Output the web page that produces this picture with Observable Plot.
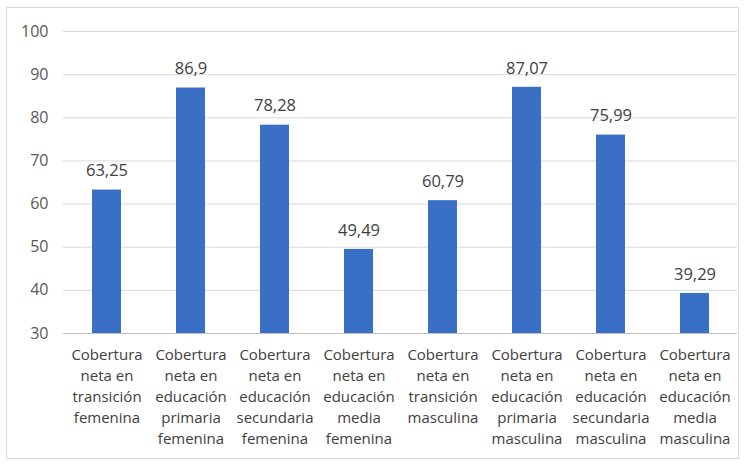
<!DOCTYPE html>
<html><head><meta charset="utf-8">
<script src="https://cdn.jsdelivr.net/npm/d3@7"></script>
<script src="https://cdn.jsdelivr.net/npm/@observablehq/plot@0.6"></script>
<style>
body{margin:0;background:#fff;}
#frame{position:absolute;left:6px;top:7px;width:733px;height:452px;border:1px solid #d9d9d9;box-sizing:border-box;}
#chart{position:absolute;left:0;top:0;}
</style></head>
<body><div id="frame"></div><div id="chart"></div>
<script>
const categories = [
  "Cobertura\nneta en\ntransición\nfemenina",
  "Cobertura\nneta en\neducación\nprimaria\nfemenina",
  "Cobertura\nneta en\neducación\nsecundaria\nfemenina",
  "Cobertura\nneta en\neducación\nmedia\nfemenina",
  "Cobertura\nneta en\ntransición\nmasculina",
  "Cobertura\nneta en\neducación\nprimaria\nmasculina",
  "Cobertura\nneta en\neducación\nsecundaria\nmasculina",
  "Cobertura\nneta en\neducación\nmedia\nmasculina"
];
const values = [63.25, 86.9, 78.28, 49.49, 60.79, 87.07, 75.99, 39.29];
const valueLabels = ["63,25", "86,9", "78,28", "49,49", "60,79", "87,07", "75,99", "39,29"];
const yTicks = [30, 40, 50, 60, 70, 80, 90, 100];

const data = categories.map((c, i) => ({cat: c, v: values[i], lab: valueLabels[i]}));

const chart = Plot.plot({
  width: 745, height: 466,
  marginTop: 31, marginBottom: 133, marginLeft: 63, marginRight: 8,
  style: {fontFamily: "'Open Sans', sans-serif", background: "transparent"},
  x: {domain: categories, paddingInner: 0.655, paddingOuter: 0.3275},
  y: {domain: [30, 100], ticks: yTicks},
  marks: [
    Plot.gridY(yTicks, {stroke: "#d9d9d9", strokeOpacity: 1}),
    Plot.ruleY([30], {stroke: "#bfbfbf"}),
    Plot.barY(data, {x: "cat", y1: 30, y2: "v", fill: "#3a6fc6"}),
    Plot.text(data, {x: "cat", y: "v", text: "lab", dy: -19, fontSize: 16.5, fill: "#404040"}),
    Plot.axisY(yTicks, {tickSize: 0, tickPadding: 0, dx: -15, fontSize: 16, color: "#595959", label: null}),
    Plot.axisX({tickSize: 0, tickPadding: 12, fontSize: 15, lineHeight: 1.4, color: "#404040", label: null})
  ]
});
document.getElementById("chart").appendChild(chart);
</script></body></html>
